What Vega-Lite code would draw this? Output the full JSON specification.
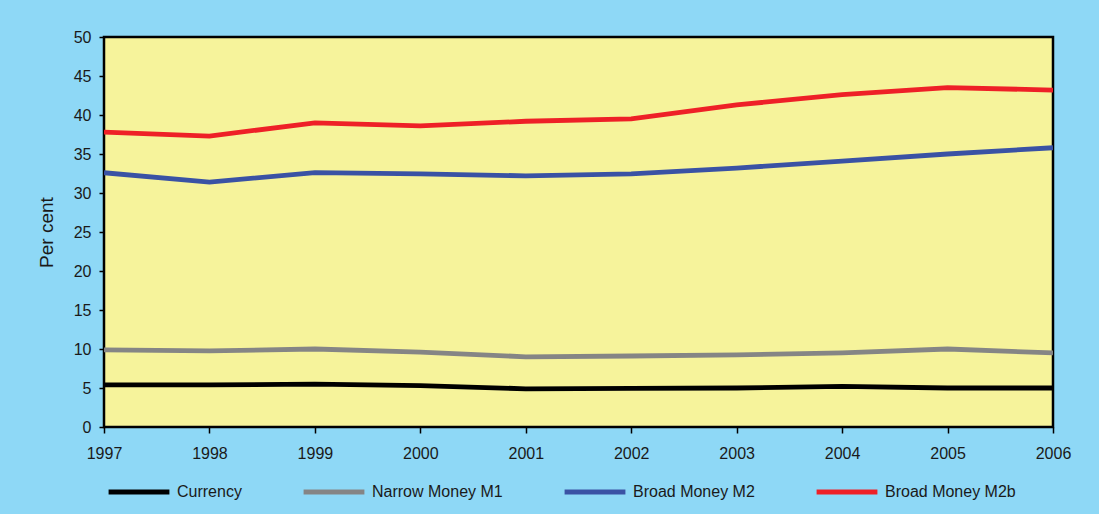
{
  "$schema": "https://vega.github.io/schema/vega-lite/v6.json",
  "width": 949,
  "height": 390,
  "autosize": {"type": "none"},
  "padding": {"left": 104, "top": 37, "right": 46, "bottom": 87},
  "background": "#8ED8F6",
  "config": {
    "font": "Liberation Sans",
    "view": {"fill": "#F6F39B", "stroke": "#000000", "strokeWidth": 2.5}
  },
  "data": {
    "values": [
      {"year": 1997, "series": "Currency", "value": 5.4},
      {"year": 1998, "series": "Currency", "value": 5.4},
      {"year": 1999, "series": "Currency", "value": 5.5},
      {"year": 2000, "series": "Currency", "value": 5.3},
      {"year": 2001, "series": "Currency", "value": 4.9},
      {"year": 2002, "series": "Currency", "value": 4.95},
      {"year": 2003, "series": "Currency", "value": 5.0},
      {"year": 2004, "series": "Currency", "value": 5.2},
      {"year": 2005, "series": "Currency", "value": 5.0},
      {"year": 2006, "series": "Currency", "value": 5.0},
      {"year": 1997, "series": "Narrow Money M1", "value": 9.9},
      {"year": 1998, "series": "Narrow Money M1", "value": 9.75},
      {"year": 1999, "series": "Narrow Money M1", "value": 10.0},
      {"year": 2000, "series": "Narrow Money M1", "value": 9.6},
      {"year": 2001, "series": "Narrow Money M1", "value": 9.0},
      {"year": 2002, "series": "Narrow Money M1", "value": 9.1},
      {"year": 2003, "series": "Narrow Money M1", "value": 9.25},
      {"year": 2004, "series": "Narrow Money M1", "value": 9.5},
      {"year": 2005, "series": "Narrow Money M1", "value": 10.0},
      {"year": 2006, "series": "Narrow Money M1", "value": 9.5},
      {"year": 1997, "series": "Broad Money M2", "value": 32.6},
      {"year": 1998, "series": "Broad Money M2", "value": 31.4},
      {"year": 1999, "series": "Broad Money M2", "value": 32.6},
      {"year": 2000, "series": "Broad Money M2", "value": 32.45},
      {"year": 2001, "series": "Broad Money M2", "value": 32.2},
      {"year": 2002, "series": "Broad Money M2", "value": 32.45},
      {"year": 2003, "series": "Broad Money M2", "value": 33.2},
      {"year": 2004, "series": "Broad Money M2", "value": 34.1},
      {"year": 2005, "series": "Broad Money M2", "value": 35.0},
      {"year": 2006, "series": "Broad Money M2", "value": 35.8},
      {"year": 1997, "series": "Broad Money M2b", "value": 37.8},
      {"year": 1998, "series": "Broad Money M2b", "value": 37.3},
      {"year": 1999, "series": "Broad Money M2b", "value": 39.0},
      {"year": 2000, "series": "Broad Money M2b", "value": 38.6},
      {"year": 2001, "series": "Broad Money M2b", "value": 39.2},
      {"year": 2002, "series": "Broad Money M2b", "value": 39.5},
      {"year": 2003, "series": "Broad Money M2b", "value": 41.3},
      {"year": 2004, "series": "Broad Money M2b", "value": 42.6},
      {"year": 2005, "series": "Broad Money M2b", "value": 43.5},
      {"year": 2006, "series": "Broad Money M2b", "value": 43.2}
    ]
  },
  "mark": {"type": "line", "strokeWidth": 4.8, "clip": true},
  "encoding": {
    "x": {
      "field": "year",
      "type": "quantitative",
      "scale": {"domain": [1997, 2006], "nice": false, "zero": false},
      "axis": {
        "values": [1997, 1998, 1999, 2000, 2001, 2002, 2003, 2004, 2005, 2006],
        "format": "d",
        "title": null,
        "grid": false,
        "domain": false,
        "tickColor": "#000000",
        "tickSize": 6,
        "tickWidth": 1.5,
        "labelFontSize": 16,
        "labelColor": "#1A1A1A",
        "labelPadding": 12,
        "labelFlush": false
      }
    },
    "y": {
      "field": "value",
      "type": "quantitative",
      "scale": {"domain": [0, 50], "nice": false},
      "axis": {
        "values": [0, 5, 10, 15, 20, 25, 30, 35, 40, 45, 50],
        "title": "Per cent",
        "titleFontSize": 19,
        "titleFontWeight": "normal",
        "titleColor": "#1A1A1A",
        "titlePadding": 17,
        "grid": false,
        "domain": false,
        "tickColor": "#000000",
        "tickSize": 5,
        "tickWidth": 1.5,
        "labelFontSize": 16,
        "labelColor": "#1A1A1A",
        "labelPadding": 8
      }
    },
    "color": {
      "field": "series",
      "type": "nominal",
      "sort": ["Currency", "Narrow Money M1", "Broad Money M2", "Broad Money M2b"],
      "scale": {
        "domain": ["Currency", "Narrow Money M1", "Broad Money M2", "Broad Money M2b"],
        "range": ["#000000", "#858585", "#3A52A4", "#EE2027"]
      },
      "legend": {
        "title": null,
        "orient": "none",
        "legendX": 2,
        "legendY": 422,
        "direction": "horizontal",
        "symbolType": "stroke",
        "symbolSize": 3700,
        "symbolStrokeWidth": 5,
        "labelFontSize": 16,
        "labelColor": "#1A1A1A",
        "labelOffset": 5,
        "columnPadding": 51,
        "gridAlign": "none"
      }
    }
  }
}
